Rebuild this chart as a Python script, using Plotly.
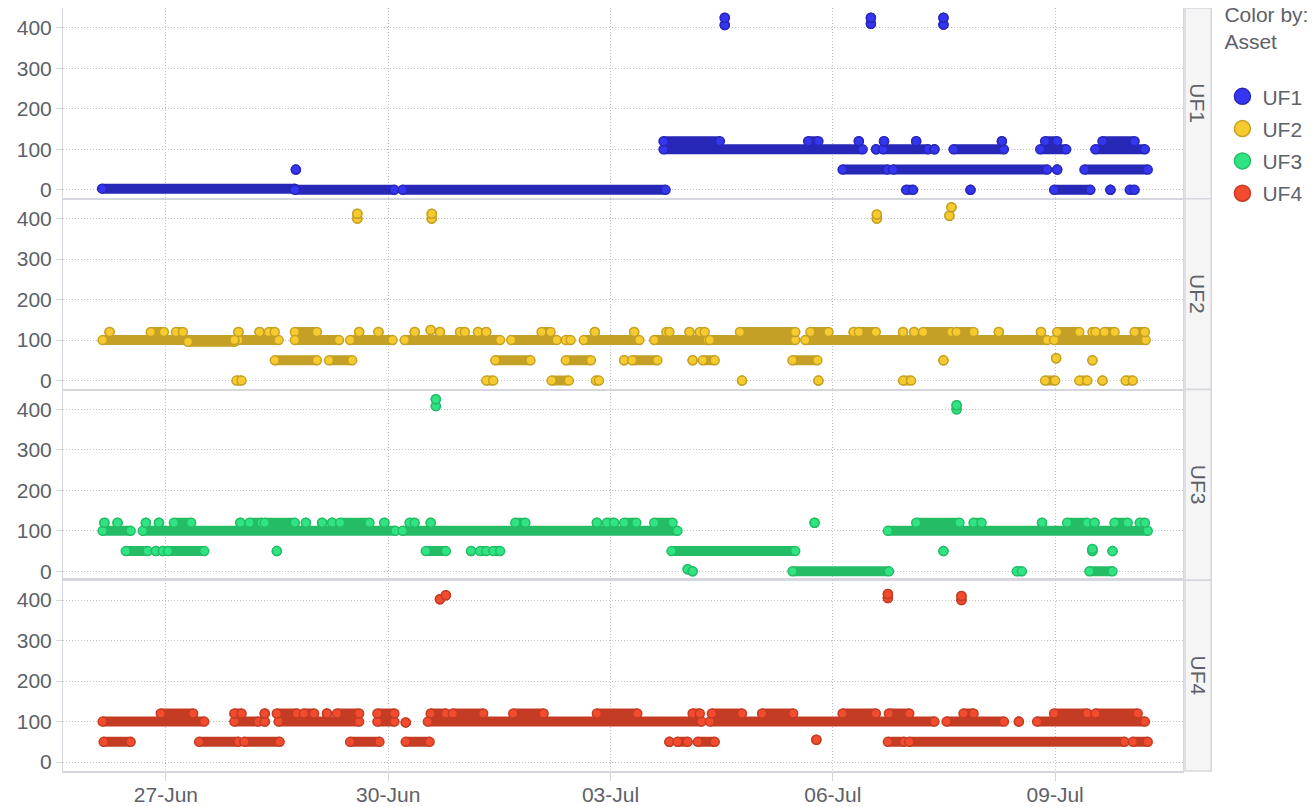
import plotly.graph_objects as go
from plotly.subplots import make_subplots

YEAR = "2023"
ASSETS = ["UF1", "UF2", "UF3", "UF4"]

# (start, end, value) of each run of readings; start == end is a single reading
UF1_runs = [
    ("06-26 03:20", "06-28 17:45", 3), ("06-28 17:45", "06-30 02:00", 0),
    ("06-30 04:40", "07-03 17:50", 0), ("06-28 18:05", "06-28 18:05", 50),
    ("07-03 17:10", "07-06 09:40", 100), ("07-03 17:10", "07-04 11:25", 120),
    ("07-05 16:00", "07-05 19:20", 120),
    ("07-04 13:00", "07-04 13:00", 407), ("07-04 13:00", "07-04 13:00", 425),
    ("07-06 12:20", "07-06 12:20", 410), ("07-06 12:20", "07-06 12:20", 425),
    ("07-07 11:50", "07-07 11:50", 408), ("07-07 11:50", "07-07 11:50", 425),
    ("07-06 03:10", "07-06 17:50", 50), ("07-06 19:30", "07-08 21:25", 50),
    ("07-09 00:40", "07-09 00:40", 50), ("07-09 09:30", "07-10 06:00", 50),
    ("07-06 14:00", "07-06 14:00", 100), ("07-06 16:15", "07-07 06:55", 100),
    ("07-07 08:55", "07-07 08:55", 100), ("07-07 15:05", "07-08 07:25", 100),
    ("07-08 19:10", "07-09 03:35", 100), ("07-09 13:00", "07-10 05:05", 100),
    ("07-06 08:25", "07-06 08:25", 120), ("07-06 16:35", "07-06 16:35", 120),
    ("07-07 03:00", "07-07 03:00", 120), ("07-08 06:45", "07-08 06:45", 120),
    ("07-08 20:45", "07-09 00:40", 120), ("07-09 15:20", "07-10 01:45", 120),
    ("07-06 23:45", "07-07 02:00", 0), ("07-07 20:35", "07-07 20:35", 0),
    ("07-08 23:40", "07-09 11:25", 0), ("07-09 17:55", "07-09 17:55", 0),
    ("07-10 00:10", "07-10 01:45", 0),
]

UF2_runs = [
    ("06-26 03:30", "06-27 23:30", 100), ("06-27 07:10", "06-27 22:10", 96),
    ("06-26 05:45", "06-26 05:45", 120), ("06-26 19:05", "06-26 23:20", 120),
    ("06-27 03:15", "06-27 05:30", 120), ("06-27 23:30", "06-27 23:30", 120),
    ("06-27 22:50", "06-28 00:30", 0), ("06-27 22:10", "06-28 12:30", 100),
    ("06-28 06:20", "06-28 06:20", 120), ("06-28 09:20", "06-28 11:15", 120),
    ("06-28 11:15", "06-29 00:55", 50), ("06-29 04:50", "06-29 12:20", 50),
    ("06-28 17:45", "06-29 00:55", 120), ("06-28 17:45", "06-29 08:05", 100),
    ("06-29 14:00", "06-29 14:00", 400), ("06-29 14:00", "06-29 14:00", 412),
    ("06-29 11:40", "06-30 01:25", 100), ("06-29 14:35", "06-29 14:35", 120),
    ("06-29 20:50", "06-29 20:50", 120), ("06-30 05:20", "07-01 12:15", 100),
    ("06-30 08:35", "06-30 08:35", 120), ("06-30 13:45", "06-30 13:45", 125),
    ("06-30 16:45", "06-30 16:45", 120), ("06-30 23:15", "07-01 00:50", 120),
    ("07-01 05:05", "07-01 05:05", 120), ("07-01 07:45", "07-01 07:45", 120),
    ("06-30 14:05", "06-30 14:05", 400), ("06-30 14:05", "06-30 14:05", 412),
    ("07-01 15:50", "07-02 06:35", 100), ("07-02 09:30", "07-02 11:05", 100),
    ("07-02 15:20", "07-03 09:20", 100), ("07-03 14:10", "07-04 07:30", 100),
    ("07-04 08:10", "07-05 11:50", 100), ("07-05 15:05", "07-08 21:25", 100),
    ("07-08 23:40", "07-10 05:20", 100),
    ("07-02 01:40", "07-02 04:35", 120), ("07-02 18:55", "07-02 18:55", 120),
    ("07-03 07:40", "07-03 07:40", 120), ("07-03 18:05", "07-03 19:05", 120),
    ("07-04 01:35", "07-04 01:35", 120), ("07-04 04:55", "07-04 06:30", 120),
    ("07-04 17:55", "07-05 11:50", 120), ("07-05 16:45", "07-05 22:35", 120),
    ("07-06 06:45", "07-06 06:45", 120), ("07-06 08:25", "07-06 13:55", 120),
    ("07-06 22:45", "07-06 22:45", 120), ("07-07 02:20", "07-07 02:20", 120),
    ("07-07 05:15", "07-07 14:25", 120), ("07-07 16:05", "07-07 21:35", 120),
    ("07-08 05:45", "07-08 05:45", 120), ("07-08 19:25", "07-08 19:25", 120),
    ("07-09 00:40", "07-09 07:50", 120), ("07-09 12:05", "07-09 13:05", 120),
    ("07-09 16:00", "07-09 19:15", 120), ("07-10 01:45", "07-10 05:05", 120),
    ("07-01 10:40", "07-01 22:05", 50), ("07-02 09:30", "07-02 17:40", 50),
    ("07-03 04:25", "07-03 04:25", 50), ("07-03 07:00", "07-03 15:10", 50),
    ("07-04 02:35", "07-04 02:35", 50), ("07-04 05:50", "07-04 09:45", 50),
    ("07-05 10:55", "07-05 19:00", 50), ("07-07 11:50", "07-07 11:50", 50),
    ("07-09 00:20", "07-09 00:20", 55), ("07-09 12:05", "07-09 12:05", 50),
    ("07-01 07:45", "07-01 10:00", 0), ("07-02 04:55", "07-02 10:30", 0),
    ("07-02 19:15", "07-02 20:15", 0), ("07-04 18:35", "07-04 18:35", 0),
    ("07-05 19:20", "07-05 19:20", 0), ("07-06 22:45", "07-07 01:20", 0),
    ("07-08 20:45", "07-09 00:00", 0), ("07-09 07:50", "07-09 10:25", 0),
    ("07-09 15:20", "07-09 15:20", 0), ("07-09 22:50", "07-10 01:10", 0),
    ("07-06 14:15", "07-06 14:15", 400), ("07-06 14:15", "07-06 14:15", 410),
    ("07-07 13:45", "07-07 13:45", 407), ("07-07 14:25", "07-07 14:25", 428),
]

UF3_runs = [
    ("06-26 03:30", "06-26 12:35", 100), ("06-26 16:30", "06-30 02:20", 100),
    ("06-30 04:40", "07-03 21:40", 100),
    ("06-26 04:05", "06-26 04:05", 120), ("06-26 08:20", "06-26 08:20", 120),
    ("06-26 17:30", "06-26 17:30", 120), ("06-26 21:45", "06-26 21:45", 120),
    ("06-27 02:35", "06-27 08:10", 120), ("06-28 00:05", "06-28 00:05", 120),
    ("06-28 03:05", "06-28 07:00", 120), ("06-28 08:00", "06-28 17:45", 120),
    ("06-28 21:20", "06-28 21:20", 120), ("06-29 02:35", "06-29 02:35", 120),
    ("06-29 05:50", "06-29 05:50", 120), ("06-29 08:25", "06-29 17:55", 120),
    ("06-29 22:45", "06-29 22:45", 120), ("06-30 06:55", "06-30 08:35", 120),
    ("06-30 13:45", "06-30 13:45", 120), ("07-01 17:10", "07-01 20:25", 120),
    ("07-02 19:35", "07-02 19:35", 120), ("07-02 22:50", "07-03 01:10", 120),
    ("07-03 04:25", "07-03 08:20", 120), ("07-03 14:10", "07-03 20:05", 120),
    ("06-26 11:00", "06-26 18:05", 50), ("06-26 20:45", "06-26 20:45", 50),
    ("06-26 23:00", "06-26 23:00", 50), ("06-27 00:40", "06-27 12:25", 50),
    ("06-28 11:55", "06-28 11:55", 50), ("06-30 12:10", "06-30 18:40", 50),
    ("07-01 02:50", "07-01 02:50", 50), ("07-01 05:45", "07-01 07:45", 50),
    ("07-01 10:00", "07-01 12:15", 50), ("07-03 19:45", "07-05 11:50", 50),
    ("06-30 15:25", "06-30 15:25", 408), ("06-30 15:25", "06-30 15:25", 425),
    ("07-04 01:00", "07-04 01:00", 5), ("07-04 02:35", "07-04 02:35", 0),
    ("07-05 10:55", "07-06 18:10", 0), ("07-05 18:05", "07-05 18:05", 120),
    ("07-06 17:50", "07-10 06:00", 100),
    ("07-07 03:00", "07-07 17:00", 120), ("07-07 21:35", "07-08 00:10", 120),
    ("07-08 19:45", "07-08 19:45", 120), ("07-09 03:55", "07-09 10:25", 120),
    ("07-09 12:45", "07-09 12:45", 120), ("07-09 19:15", "07-09 23:30", 120),
    ("07-10 03:25", "07-10 05:05", 120),
    ("07-07 11:50", "07-07 11:50", 50), ("07-09 12:05", "07-09 12:05", 50),
    ("07-09 12:05", "07-09 12:05", 55), ("07-09 18:35", "07-09 18:35", 50),
    ("07-08 11:35", "07-08 13:15", 0), ("07-09 11:05", "07-09 18:35", 0),
    ("07-07 16:05", "07-07 16:05", 400), ("07-07 16:05", "07-07 16:05", 410),
]

UF4_runs = [
    ("06-26 03:30", "06-27 12:25", 100), ("06-26 22:20", "06-27 08:50", 120),
    ("06-26 03:50", "06-26 12:35", 50), ("06-27 10:45", "06-27 23:30", 50),
    ("06-28 01:25", "06-28 12:50", 50),
    ("06-27 22:10", "06-28 06:00", 100), ("06-28 08:00", "06-28 08:00", 100),
    ("06-28 12:30", "06-29 14:35", 100), ("06-29 20:30", "06-30 02:00", 100),
    ("06-27 22:10", "06-28 00:30", 120), ("06-28 08:00", "06-28 08:00", 120),
    ("06-28 11:55", "06-28 18:25", 120), ("06-28 20:40", "06-29 00:00", 120),
    ("06-29 04:10", "06-29 04:10", 120), ("06-29 07:25", "06-29 14:35", 120),
    ("06-29 20:30", "06-30 02:00", 120),
    ("06-29 11:40", "06-29 21:10", 50), ("06-30 05:40", "06-30 05:40", 98),
    ("06-30 05:40", "06-30 13:25", 50),
    ("06-30 12:50", "07-04 05:30", 100), ("07-04 08:10", "07-07 08:55", 100),
    ("07-07 12:50", "07-08 07:25", 100), ("07-08 12:15", "07-08 12:15", 100),
    ("07-08 18:10", "07-10 05:05", 100),
    ("06-30 13:45", "06-30 18:40", 120), ("06-30 20:55", "07-01 06:45", 120),
    ("07-01 16:30", "07-02 02:20", 120), ("07-02 19:35", "07-03 08:40", 120),
    ("07-04 02:35", "07-04 04:55", 120), ("07-04 08:50", "07-04 18:35", 120),
    ("07-05 01:05", "07-05 11:10", 120), ("07-06 03:10", "07-06 13:55", 120),
    ("07-06 18:10", "07-07 00:45", 120), ("07-07 18:20", "07-07 21:35", 120),
    ("07-08 23:40", "07-09 10:25", 120), ("07-09 13:05", "07-10 02:45", 120),
    ("06-30 16:45", "06-30 16:45", 402), ("06-30 18:40", "06-30 18:40", 412),
    ("07-03 19:05", "07-03 19:05", 50), ("07-03 21:40", "07-04 01:00", 50),
    ("07-04 04:15", "07-04 09:45", 50), ("07-05 18:40", "07-05 18:40", 55),
    ("07-06 17:50", "07-06 23:05", 50), ("07-07 00:45", "07-09 22:30", 50),
    ("07-10 01:10", "07-10 06:00", 50),
    ("07-06 17:50", "07-06 17:50", 405), ("07-06 17:50", "07-06 17:50", 415),
    ("07-07 17:40", "07-07 17:40", 400), ("07-07 17:40", "07-07 17:40", 410),
]

RUNS = {"UF1": UF1_runs, "UF2": UF2_runs, "UF3": UF3_runs, "UF4": UF4_runs}

FILL = {"UF1": "#3535f2", "UF2": "#f7cb2d", "UF3": "#30e483", "UF4": "#f24b2d"}
EDGE = {"UF1": "#2727b8", "UF2": "#c4a126", "UF3": "#24bd66", "UF4": "#c33c23"}

FONT = "Liberation Sans, Arial, Helvetica, sans-serif"
TXT = "#5d6168"
AXC = "#d6d7de"
GRID = "#c4c4c4"
FS = 21

fig = make_subplots(rows=4, cols=1, shared_xaxes=True, vertical_spacing=0)

for i, a in enumerate(ASSETS):
    xs, ys = [], []
    for s, e, v in RUNS[a]:
        xs += [f"{YEAR}-{s}", f"{YEAR}-{e}", None]
        ys += [v, v, None]
    fig.add_trace(go.Scatter(
        x=xs, y=ys, mode="lines+markers", name=a, legendgroup=a, showlegend=False,
        line=dict(color=EDGE[a], width=10),
        marker=dict(size=9, color=FILL[a], line=dict(color=EDGE[a], width=1.5)),
        connectgaps=False, hoverinfo="skip"), row=i + 1, col=1)
    fig.add_trace(go.Scatter(
        x=[None], y=[None], mode="markers", name=a, legendgroup=a, showlegend=True,
        marker=dict(size=20, color=FILL[a], line=dict(color=EDGE[a], width=1.5))),
        row=1, col=1)

x_start = f"{YEAR}-06-25 14:40"
x_end = f"{YEAR}-07-10 17:25"
for r in range(1, 5):
    fig.update_yaxes(
        range=[-22, 449], tickvals=[0, 100, 200, 300, 400], showgrid=True,
        gridcolor=GRID, griddash="1px,2px", gridwidth=1, zeroline=False,
        showline=True, linecolor=AXC, linewidth=1, mirror=True,
        ticks="outside", ticklen=6, tickcolor=AXC, automargin=False,
        tickfont=dict(size=FS, color=TXT, family=FONT), row=r, col=1)
    fig.update_xaxes(
        type="date", range=[x_start, x_end], tick0=f"{YEAR}-06-27",
        dtick=3 * 86400000, tickformat="%d-%b", showgrid=True, gridcolor=GRID,
        griddash="1px,2px", gridwidth=1, zeroline=False, showline=True,
        linecolor=AXC, linewidth=1.5 if r == 4 else 1, mirror=True,
        ticks="outside" if r == 4 else "", ticklen=8, tickcolor=AXC,
        ticklabelstandoff=-4,
        showticklabels=(r == 4), automargin=False,
        tickfont=dict(size=FS, color=TXT, family=FONT), row=r, col=1)

shapes, annots = [], []
for i, a in enumerate(ASSETS):
    yref = "y domain" if i == 0 else f"y{i + 1} domain"
    shapes.append(dict(type="rect", xref="paper", yref=yref, x0=1.0018, x1=1.0252,
                       y0=0, y1=1, fillcolor="#f5f5f5", line=dict(color=AXC, width=1.5),
                       layer="below"))
    annots.append(dict(text=a, xref="paper", yref=yref, x=1.0135, y=0.5,
                       textangle=90, showarrow=False, xanchor="center", yanchor="middle",
                       font=dict(size=FS, color=TXT, family=FONT)))

# the page body adds an 8px offset, so the figure is 8px smaller than the window
fig.update_layout(
    width=1307, height=799,
    margin=dict(l=55, r=132, t=0, b=36, autoexpand=False),
    plot_bgcolor="white", paper_bgcolor="white",
    font=dict(family=FONT, color=TXT, size=FS),
    shapes=shapes, annotations=annots,
    legend=dict(title=dict(text="Color by:<br>Asset<br> ", font=dict(size=FS, color=TXT)),
                x=1.0352, xanchor="left", y=1.018, yanchor="top",
                font=dict(size=FS, color=TXT), tracegroupgap=2,
                bgcolor="rgba(0,0,0,0)"),
)

fig.write_html("out.html")
